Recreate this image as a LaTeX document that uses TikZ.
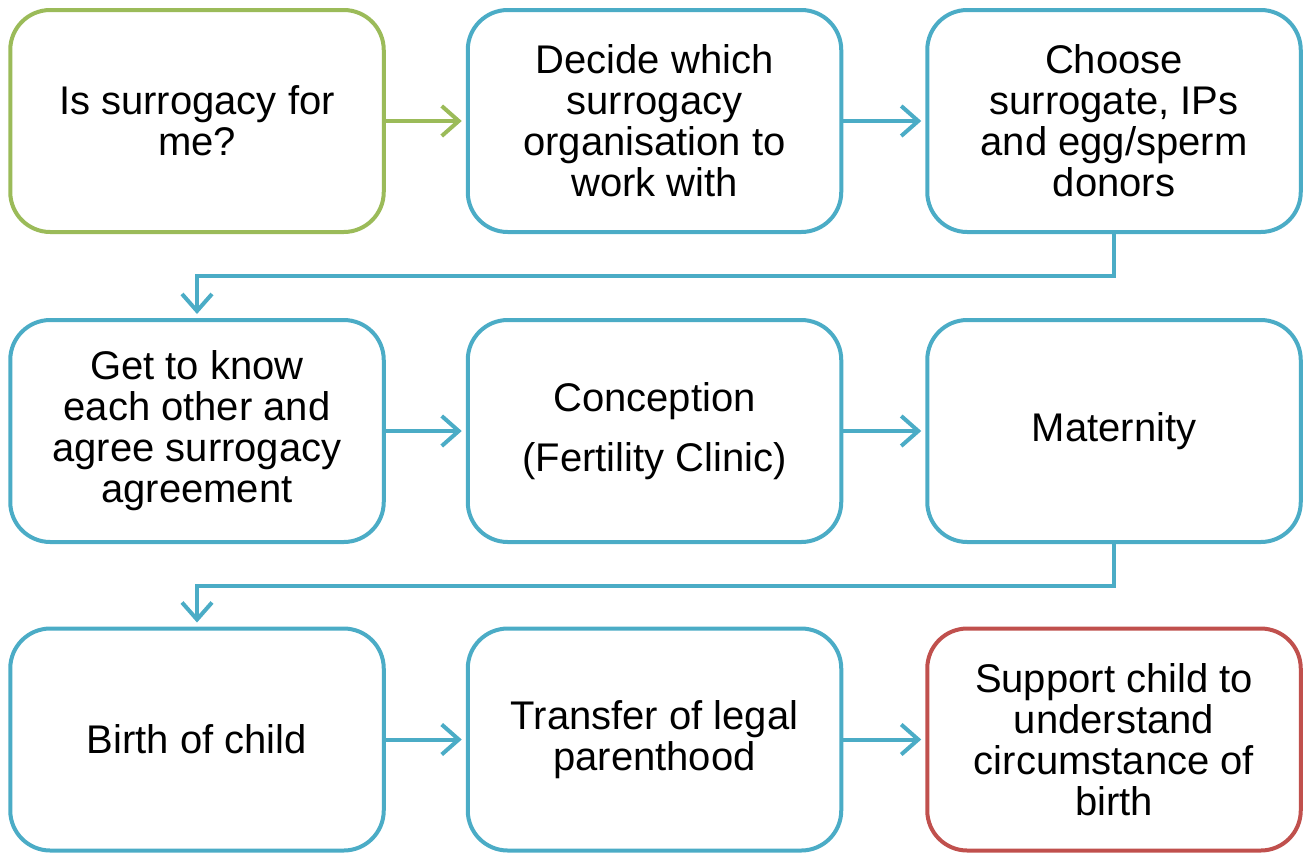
\documentclass[tikz,border=0pt]{standalone}
\usepackage{fontspec}
\setmainfont{Liberation Sans}
\usetikzlibrary{arrows.meta}
\definecolor{cgreen}{HTML}{9BBB59}
\definecolor{cblue}{HTML}{4BACC6}
\definecolor{cred}{HTML}{C0504D}
\tikzset{
  stepbox/.style={draw=cblue, line width=4pt, rounded corners=40pt, fill=white,
    minimum width=373.5pt, minimum height=222pt, inner sep=0pt, outer sep=0pt,
    align=center, font=\fontsize{40}{41}\selectfont},
  startbox/.style={stepbox, draw=cgreen},
  endbox/.style={stepbox, draw=cred},
  conn/.style={draw=cblue, line width=4pt, shorten >=6pt,
    -{Straight Barb[length=17pt,width=30pt,line width=4pt]}},
  startconn/.style={conn, draw=cgreen},
}
\begin{document}
\begin{tikzpicture}[x=1pt,y=-1pt]
\useasboundingbox (0,0) rectangle (1305,852);
\node[startbox] (b1) at (197,121) {Is surrogacy for\\me?};
\node[stepbox] (b2) at (654.5,121) {Decide which\\surrogacy\\organisation to\\work with};
\node[stepbox] (b3) at (1114,121) {Choose\\surrogate, IPs\\and egg/sperm\\donors};
\node[stepbox] (b4) at (197,431) {Get to know\\each other and\\agree surrogacy\\agreement};
\node[stepbox] (b5) at (654.5,431) {Conception\\[19pt](Fertility Clinic)};
\node[stepbox] (b6) at (1114,431) {Maternity};
\node[stepbox] (b7) at (197,739.5) {Birth of child};
\node[stepbox] (b8) at (654.5,739.5) {Transfer of legal\\parenthood};
\node[endbox] (b9) at (1114,739.5) {Support child to\\understand\\circumstance of\\birth};
\draw[startconn] (b1.east) -- (b2.west);
\draw[conn] (b2.east) -- (b3.west);
\draw[conn] (b4.east) -- (b5.west);
\draw[conn] (b5.east) -- (b6.west);
\draw[conn] (b7.east) -- (b8.west);
\draw[conn] (b8.east) -- (b9.west);
\draw[conn, rounded corners=0pt] (b3.south) -- ++(0,44) -| (b4.north);
\draw[conn, rounded corners=0pt] (b6.south) -- ++(0,44) -| (b7.north);
\end{tikzpicture}
\end{document}
